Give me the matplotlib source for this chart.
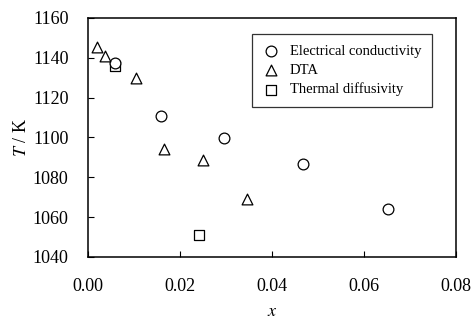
import matplotlib.pyplot as plt
from matplotlib.ticker import MultipleLocator

plt.rcParams['font.family'] = ['Liberation Serif', 'DejaVu Serif']
plt.rcParams['mathtext.fontset'] = 'stix'

# Dados
x_cond = [0.0059, 0.0159, 0.0296, 0.0467, 0.0652]
t_cond = [1137.5, 1111, 1099.5, 1086.5, 1064]

x_dta = [0.0020, 0.0037, 0.0104, 0.0165, 0.0250, 0.0346]
t_dta = [1145.5, 1141, 1130, 1094, 1088.5, 1069]

x_diff = [0.0058, 0.0241]
t_diff = [1136, 1051]

fig = plt.figure(figsize=(4.72, 3.22), dpi=100)
ax = fig.add_axes([88 / 472, 1 - 257 / 322, 368 / 472, 239 / 322])

ax.scatter(x_cond, t_cond, marker='o', s=60, facecolors='white',
           edgecolors='black', linewidths=0.9, label='Electrical conductivity', zorder=3)
ax.scatter(x_dta, t_dta, marker='^', s=60, facecolors='white',
           edgecolors='black', linewidths=0.9, label='DTA', zorder=3)
ax.scatter(x_diff, t_diff, marker='s', s=48, facecolors='white',
           edgecolors='black', linewidths=0.9, label='Thermal diffusivity', zorder=2)

ax.set_xlim(0, 0.08)
ax.set_ylim(1040, 1160)
ax.xaxis.set_major_locator(MultipleLocator(0.02))
ax.yaxis.set_major_locator(MultipleLocator(20))
ax.xaxis.set_major_formatter(plt.FuncFormatter(lambda v, p: f"{v:.2f}"))
ax.tick_params(direction='in', length=4, width=0.8, labelsize=13,
               top=False, right=False)
ax.tick_params(axis='x', pad=15)
ax.tick_params(axis='y', pad=14)
for sp in ax.spines.values():
    sp.set_linewidth(1.1)

ax.set_xlabel('$x$', fontsize=13, labelpad=6)
ax.set_ylabel('$T$ / K', fontsize=13, labelpad=2)

leg = ax.legend(loc='upper right', bbox_to_anchor=(0.935, 0.935), fontsize=10.5,
                frameon=True, fancybox=False, edgecolor='black', handletextpad=0.8,
                handlelength=1.0, borderpad=0.75, labelspacing=0.4, borderaxespad=0)
leg.get_frame().set_linewidth(0.9)

fig.savefig('out.png', dpi=100)
